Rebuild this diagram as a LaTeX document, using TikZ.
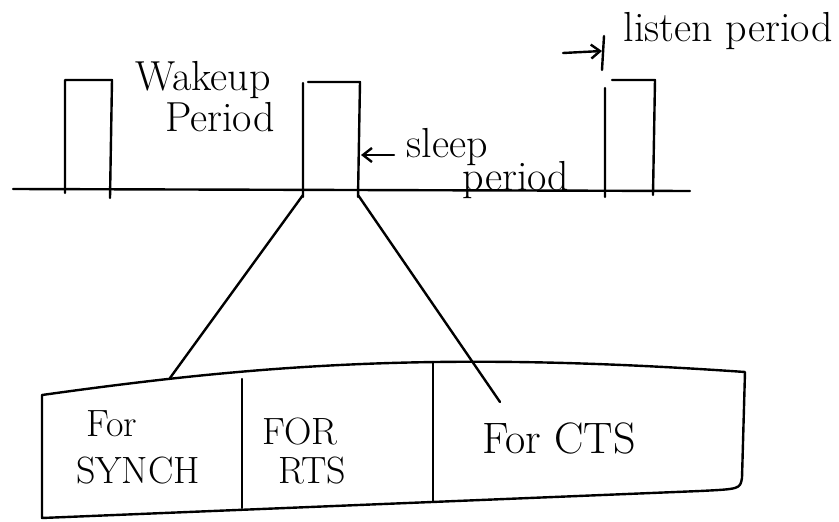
\documentclass[tikz,border=0pt]{standalone}
\usepackage{fontspec}
\usepackage{tikz}
\usetikzlibrary{arrows.meta}

\tikzset{
  pen/.style={line width=2.4pt, line cap=round, line join=round},
  hand/.style={font=\fontsize{42}{46}\selectfont, inner sep=0pt},
  slotText/.style={font=\fontsize{38}{42}\selectfont, inner sep=0pt},
}

\begin{document}
\begin{tikzpicture}[x=1pt, y=-1pt, >={Straight Barb[length=9pt, width=14pt]}, pen]
\useasboundingbox (0,0) rectangle (839,522);

%% ===================== time line with the wakeup pulses =====================
\draw (13,189) -- (690,191);

% three pulses
\draw (65,193) -- (65,80) -- (112,80) -- (110,198);
\draw (303,197) -- (303,83) (308,82) -- (360,82) -- (358,197);
\draw (605,197) -- (605,88) (612,80) -- (655,80) -- (653,195);

% feet of the middle pulse (start of the zoom lines)
\coordinate (pulseL) at (303,195);
\coordinate (pulseR) at (358,195);

% labels above the line
\node[hand] (wake)   at (203,80)  {Wakeup};
\node[hand] (wakeP)  at (220,117) {Period};
\node[hand] (sleep)  at (447,147) {sleep};
\node[hand] (sleepP) at (516,180) {period};
\node[hand] (listen) at (728,31)  {listen period};

% label pointers
\coordinate (sleepTail)  at (394,155);
\coordinate (sleepTip)   at (361,155);
\coordinate (listenTail) at (563,53);
\coordinate (listenTip)  at (602,51);
\draw[->] (sleepTail) -- (sleepTip);
\draw[->] (listenTail) -- (listenTip);
\draw (604,36) -- (602,70);

%% ===================== expanded slot =====================
\draw (42,518) -- (42,395) .. controls (250,366) and (430,350) .. (745,372)
      -- (742,478) .. controls (740,489) .. (700,491) -- cycle;
\draw (242,379) -- (242,508);
\draw (433,362) -- (433,502);

% zoom lines
\coordinate (slotL) at (170,378);
\coordinate (slotR) at (500,402);
\draw (pulseL) -- (slotL);
\draw (pulseR) -- (slotR);

% slot contents
\node[slotText] (syncA) at (112,424) {For};
\node[slotText] (syncB) at (138,471) {SYNCH};
\node[slotText] (rtsA)  at (300,432) {FOR};
\node[slotText] (rtsB)  at (312,471) {RTS};
\node[slotText, font=\fontsize{44}{48}\selectfont] (cts) at (559,438) {For CTS};

\end{tikzpicture}
\end{document}
